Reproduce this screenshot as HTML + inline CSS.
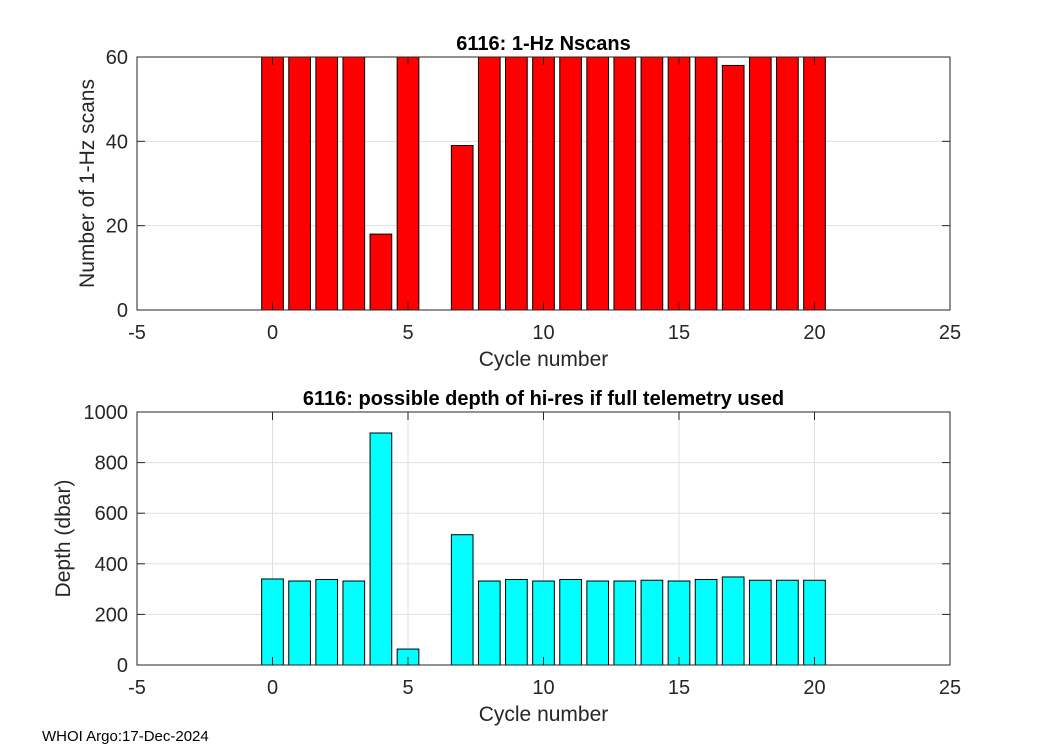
<!DOCTYPE html>
<html><head><meta charset="utf-8"><style>
html,body{margin:0;padding:0;background:#fff;width:1050px;height:750px;overflow:hidden}
svg text{font-family:"Liberation Sans",sans-serif;fill:#262626}
</style></head><body>
<svg id="c" width="1050" height="750"></svg>
<script>
const cycles = [0,1,2,3,4,5,7,8,9,10,11,12,13,14,15,16,17,18,19,20];
const nscans = [60,60,60,60,18,60,39,60,60,60,60,60,60,60,60,60,58,60,60,60];
const depths = [340,332,338,332,917,63,515,332,338,332,338,332,332,335,332,338,348,335,335,335];
const xTicks = [-5,0,5,10,15,20,25];
const yTicksTop = [0,20,40,60];
const yTicksBot = [0,200,400,600,800,1000];

const svg = document.getElementById('c');
const NS = 'http://www.w3.org/2000/svg';
function mk(tag, attrs, parent){const e=document.createElementNS(NS,tag);for(const k in attrs)e.setAttribute(k,attrs[k]);(parent||svg).appendChild(e);return e;}

function panel(opt){
  const L=137,R=950,T=opt.top,B=opt.top+253;
  const g=mk('g',{});
  
  
  const sx=v=>L+(v+5)/30*(R-L);
  const sy=v=>B-(v/opt.ymax)*(B-T);
  mk('rect',{x:L,y:T,width:R-L,height:B-T,fill:'#fff'},g);
  xTicks.forEach(t=>{
    const l=mk('line',{x1:sx(t),x2:sx(t),y1:T,y2:B,stroke:'#dfdfdf','stroke-width':1},g);
    
    
  });
  opt.yTicks.forEach(t=>{
    const l=mk('line',{x1:L,x2:R,y1:sy(t),y2:sy(t),stroke:'#dfdfdf','stroke-width':1},g);
    
    
  });
  cycles.forEach((c,i)=>{
    const v=Math.min(opt.vals[i],opt.ymax);
    const x0=sx(c-0.4),x1=sx(c+0.4);
    const r=mk('rect',{x:x0,y:sy(v),width:x1-x0,height:B-sy(v),fill:opt.color,stroke:'#000','stroke-width':1},g);
    
    
  });
  mk('rect',{x:L,y:T,width:R-L,height:B-T,fill:'none',stroke:'#262626','stroke-width':1},g);
  xTicks.forEach(t=>{
    mk('line',{x1:sx(t),x2:sx(t),y1:B,y2:B-8,stroke:'#262626'},g);
    mk('line',{x1:sx(t),x2:sx(t),y1:T,y2:T+8,stroke:'#262626'},g);
    const tx=mk('text',{x:sx(t),y:B+29,'font-size':20,'text-anchor':'middle'},g);
    tx.textContent=t;
    
    
  });
  opt.yTicks.forEach(t=>{
    mk('line',{x1:L,x2:L+8,y1:sy(t),y2:sy(t),stroke:'#262626'},g);
    mk('line',{x1:R,x2:R-8,y1:sy(t),y2:sy(t),stroke:'#262626'},g);
    const tx=mk('text',{x:L-9,y:sy(t)+7,'font-size':20,'text-anchor':'end'},g);
    tx.textContent=t;
    
    
  });
  const ti=mk('text',{x:(L+R)/2,y:T-7,'font-size':20,'font-weight':'bold','text-anchor':'middle',style:'fill:#000'},g);
  ti.textContent=opt.title;
  
  
  const xl=mk('text',{x:(L+R)/2,y:B+56,'font-size':21,'text-anchor':'middle'},g);
  xl.textContent='Cycle number';
  
  
  const yl=mk('text',{x:0,y:0,'font-size':21,'text-anchor':'middle',transform:`translate(${opt.ylx},${(T+B)/2}) rotate(-90)`},g);
  yl.textContent=opt.ylabel;
  
  
}
panel({name:'nscans-panel',top:57,ymax:60,yTicks:yTicksTop,vals:nscans,color:'#ff0000',title:'6116: 1-Hz Nscans',ylabel:'Number of 1-Hz scans',ylx:94});
panel({name:'depth-panel',top:412,ymax:1000,yTicks:yTicksBot,vals:depths,color:'#00ffff',title:'6116: possible depth of hi-res if full telemetry used',ylabel:'Depth (dbar)',ylx:70});
const f=mk('text',{x:42,y:741,'font-size':15,style:'fill:#000'});
f.textContent='WHOI Argo:17-Dec-2024';


</script>
</body></html>
